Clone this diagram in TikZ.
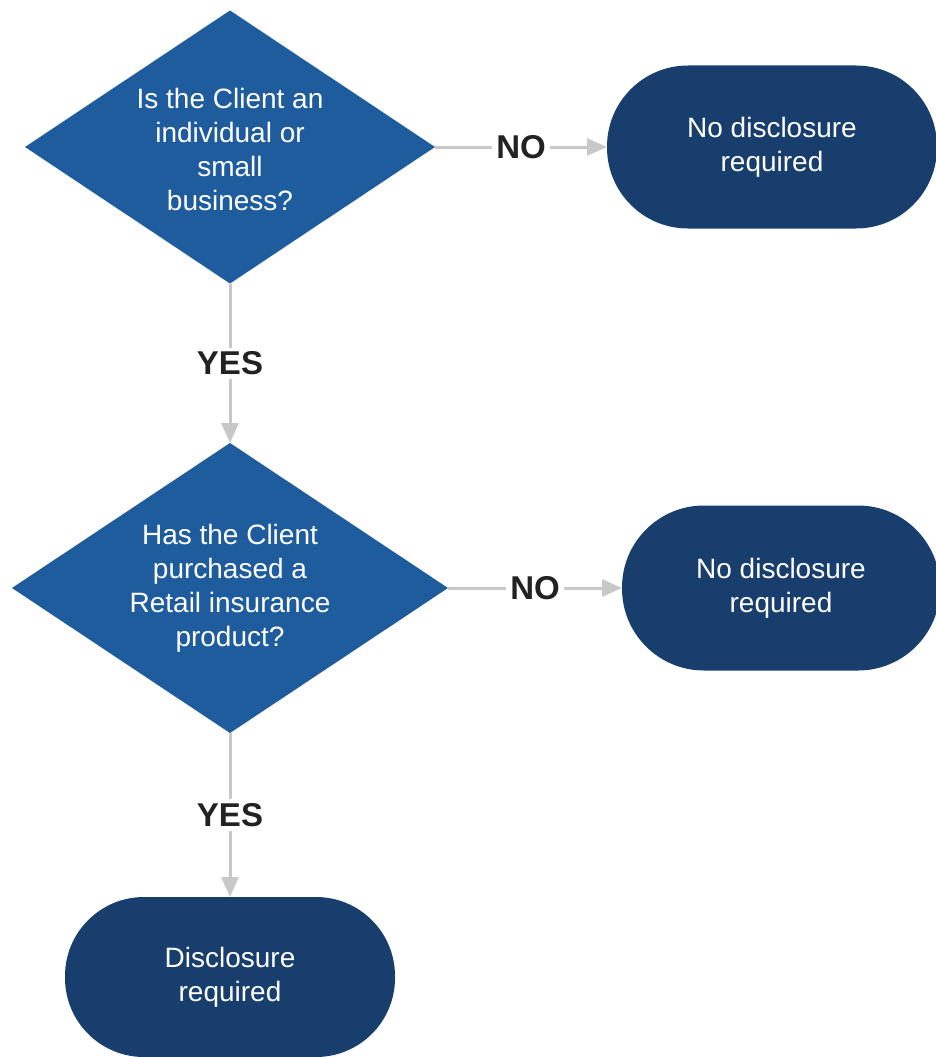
\documentclass[tikz,border=0pt]{standalone}
\usepackage{fontspec}
\setmainfont{Liberation Sans}
\usetikzlibrary{shapes.geometric,arrows.meta}
\definecolor{diablue}{HTML}{1F5C9E}
\definecolor{termblue}{HTML}{173E6C}
\definecolor{conngray}{HTML}{C8C8C8}
\definecolor{lbltext}{HTML}{222222}
\tikzset{
  dia/.style={diamond, fill=diablue, draw=none, inner sep=0pt, outer sep=0pt},
  diatext/.style={text=white, align=center, font=\fontsize{28}{34}\selectfont},
  term/.style={rectangle, fill=termblue, draw=none, text=white, align=center,
    font=\fontsize{28}{34}\selectfont, inner sep=0pt, outer sep=0pt},
  conn/.style={draw=conngray, line width=3pt, -{Triangle[length=20pt,width=17pt]}},
  lbl/.style={fill=white, text=lbltext, font=\bfseries\fontsize{33}{38}\selectfont, inner sep=4pt}
}
\begin{document}
\begin{tikzpicture}[x=1pt,y=-1pt]
\useasboundingbox (0,0) rectangle (936,1057);
% decision 1
\node[dia, minimum width=410pt, minimum height=273pt] (d1) at (230,147) {};
\node[diatext] (d1t) at (230,149) {Is the Client an\\individual or\\small\\business?};
% terminal 1
\node[term, minimum width=330pt, minimum height=163pt, rounded corners=81pt] (t1) at (772,147) {No disclosure\\required};
% decision 2
\node[dia, minimum width=436pt, minimum height=290pt] (d2) at (230,588) {};
\node[diatext] (d2t) at (d2.center) {Has the Client\\purchased a\\Retail insurance\\product?};
% terminal 2
\node[term, minimum width=318pt, minimum height=165pt, rounded corners=82pt] (t2) at (781,588) {No disclosure\\required};
% terminal 3
\node[term, minimum width=330pt, minimum height=160pt, rounded corners=79pt] (t3) at (230,977) {Disclosure\\required};
% connectors
\draw[conn] (d1.east) -- node[lbl] (n1) {NO} (t1.west);
\draw[conn] (d1.south) -- node[lbl] (y1) {YES} (d2.north);
\draw[conn] (d2.east) -- node[lbl] (n2) {NO} (t2.west);
\draw[conn] (d2.south) -- node[lbl] (y2) {YES} (t3.north);
\end{tikzpicture}
\end{document}
